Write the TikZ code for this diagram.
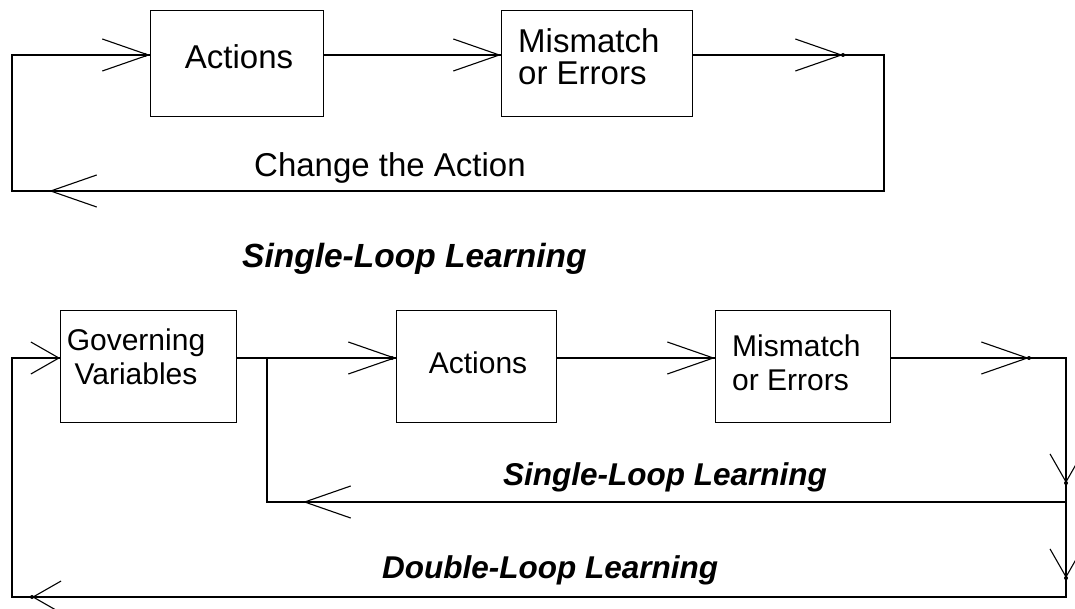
\documentclass[tikz,border=0pt]{standalone}
\usepackage{fontspec}
\setmainfont{Liberation Sans}
\usetikzlibrary{arrows.meta}
\tikzset{
  x=1pt, y=-1pt,
  box/.style={draw, line width=1.4pt, inner sep=0pt, anchor=north west},
  wire/.style={line width=1.5pt},
  longtip/.tip={Straight Barb[length=46pt, width=32pt, line width=1.1pt]},
  shorttip/.tip={Straight Barb[length=28pt, width=32pt, line width=1.1pt]},
  txt/.style={inner sep=0pt},
  bigtxt/.style={txt, font=\fontsize{33}{30}\selectfont},
  smalltxt/.style={txt, font=\fontsize{30}{34}\selectfont},
  loopname/.style={txt, font=\fontsize{31.5}{31.5}\selectfont\bfseries\itshape},
  tipdot/.style={fill=black}
}
\begin{document}
\begin{tikzpicture}
\useasboundingbox (0,0) rectangle (1075,609);

% ---------------- single-loop diagram ----------------
\node[box, minimum width=173pt, minimum height=106pt] (A1) at (150,10) {};
\node[box, minimum width=191pt, minimum height=106pt] (M1) at (501,10) {};
\node[bigtxt, anchor=base] (A1t) at (239,69) {Actions};
\node[bigtxt, anchor=base west] (M1t) at (518,53)
  {\begin{tabular}[t]{@{}l@{}}Mismatch\\or Errors\end{tabular}};

\coordinate (tNW) at (12,55);
\coordinate (tNE) at (884,55);
\coordinate (tSE) at (884,191);
\coordinate (tSW) at (12,191);
\coordinate (tOut) at (843,55);
\coordinate (tBack) at (49,191);

\draw[wire] (tNW -| M1.east) -- (tNE) -- (tSE) -- (tSW) -- (tNW) -- (tNW -| A1.west);
\draw[wire] (tNW -| A1.east) -- (tNW -| M1.west);
\draw[wire, -{longtip}] (tNW) -- (tNW -| A1.west);
\draw[wire, -{longtip}] (tNW -| A1.east) -- (tNW -| M1.west);
\draw[wire, -{longtip}] (tNW -| M1.east) -- (tOut);
\draw[wire, -{longtip}] (tSE) -- (tBack);
\fill[tipdot] (tNW -| A1.west) ++(-5,0) circle (2pt);
\fill[tipdot] (tOut) circle (2pt);

\node[bigtxt, anchor=base west] (chg) at (254,177) {Change the Action};

\node[txt, anchor=base west, font=\fontsize{33.5}{33.5}\selectfont\bfseries\itshape]
  (title) at (242,268) {Single-Loop Learning};

% ---------------- double-loop diagram ----------------
\node[box, minimum width=176pt, minimum height=112pt] (G) at (60,310) {};
\node[box, minimum width=160pt, minimum height=112pt] (A2) at (396,310) {};
\node[box, minimum width=175pt, minimum height=112pt] (M2) at (715,310) {};
\node[smalltxt, anchor=base] (Gt) at (136,350)
  {\begin{tabular}[t]{@{}c@{}}Governing\\Variables\end{tabular}};
\node[smalltxt, anchor=base] (A2t) at (478,373) {Actions};
\node[smalltxt, anchor=base west] (M2t) at (732,356)
  {\begin{tabular}[t]{@{}l@{}}Mismatch\\or Errors\end{tabular}};

\coordinate (bNW) at (12,358);
\coordinate (bNE) at (1066,358);
\coordinate (bSE) at (1066,597);
\coordinate (bSW) at (12,597);
\coordinate (br) at (267,358);
\coordinate (brS) at (267,502);
\coordinate (bMid) at (1066,502);
\coordinate (bOut) at (1029,358);
\coordinate (bDown1) at (1066,483);
\coordinate (bDown2) at (1066,578);
\coordinate (bBackS) at (303,502);
\coordinate (bBackD) at (32,597);

\draw[wire] (bNW -| M2.east) -- (bNE) -- (bSE) -- (bSW) -- (bNW) -- (bNW -| G.west);
\draw[wire] (bNW -| G.east) -- (bNW -| A2.west);
\draw[wire] (bNW -| A2.east) -- (bNW -| M2.west);
\draw[wire] (bMid) -- (brS) -- (br);
\draw[wire, -{shorttip}] (bNW) -- (bNW -| G.west);
\draw[wire, -{longtip}] (bNW -| G.east) -- (bNW -| A2.west);
\draw[wire, -{longtip}] (bNW -| A2.east) -- (bNW -| M2.west);
\draw[wire, -{longtip}] (bNW -| M2.east) -- (bOut);
\draw[wire, -{shorttip}] (bNE) -- (bDown1);
\draw[wire, -{shorttip}] (bMid) -- (bDown2);
\draw[wire, -{longtip}] (bMid) -- (bBackS);
\draw[wire, -{shorttip}] (bSE) -- (bBackD);
\fill[tipdot] (bNW -| A2.west) ++(-4,0) circle (2pt);
\fill[tipdot] (bOut) circle (2pt);
\fill[tipdot] (bDown1) circle (2pt);
\fill[tipdot] (bDown2) circle (2pt);
\fill[tipdot] (bBackD) circle (2pt);

\node[loopname, anchor=base west] (sll) at (503,485) {Single-Loop Learning};
\node[loopname, anchor=base west] (dll) at (382,578) {Double-Loop Learning};
\end{tikzpicture}
\end{document}
